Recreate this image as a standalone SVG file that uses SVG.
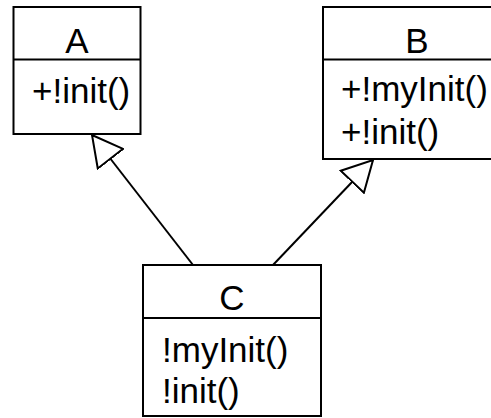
<svg xmlns="http://www.w3.org/2000/svg" width="491" height="418" viewBox="0 0 491 418">
<style>
.box{fill:#fff;stroke:#000;stroke-width:2}
.div{stroke:#000;stroke-width:2}
.t{font-family:"Liberation Sans",Arial,sans-serif;font-size:35px;fill:#000}
.c{text-anchor:middle}
.edge{stroke:#000;stroke-width:2;fill:none;marker-end:url(#tri)}
</style>
<defs>
<marker id="tri" markerUnits="userSpaceOnUse" viewBox="-1 -1 32 34" markerWidth="32" markerHeight="34" refX="30" refY="16" orient="auto">
<path d="M0,0 L30,16 L0,32 Z" fill="#fff" stroke="#000" stroke-width="2"/>
</marker>
</defs>
<g id="edges">
<line class="edge" x1="193" y1="265" x2="92" y2="135"/>
<line class="edge" x1="273" y1="265" x2="373" y2="160"/>
</g>
<g id="A">
<rect class="box" x="13.5" y="7" width="127" height="127"/>
<line class="div" x1="13.5" y1="59.5" x2="140.5" y2="59.5"/>
<text class="t c" x="77" y="53">A</text>
<text class="t" x="32" y="103">+!init()</text>
</g>
<g id="B">
<rect class="box" x="323" y="7" width="190" height="152"/>
<line class="div" x1="323" y1="59.5" x2="513" y2="59.5"/>
<text class="t c" x="417" y="53">B</text>
<text class="t" x="341" y="101">+!myInit()</text>
<text class="t" x="341" y="144">+!init()</text>
</g>
<g id="C">
<rect class="box" x="143" y="265" width="178" height="151"/>
<line class="div" x1="143" y1="318" x2="321" y2="318"/>
<text class="t c" x="232" y="310">C</text>
<text class="t" x="162" y="362">!myInit()</text>
<text class="t" x="162" y="403">!init()</text>
</g>
</svg>
